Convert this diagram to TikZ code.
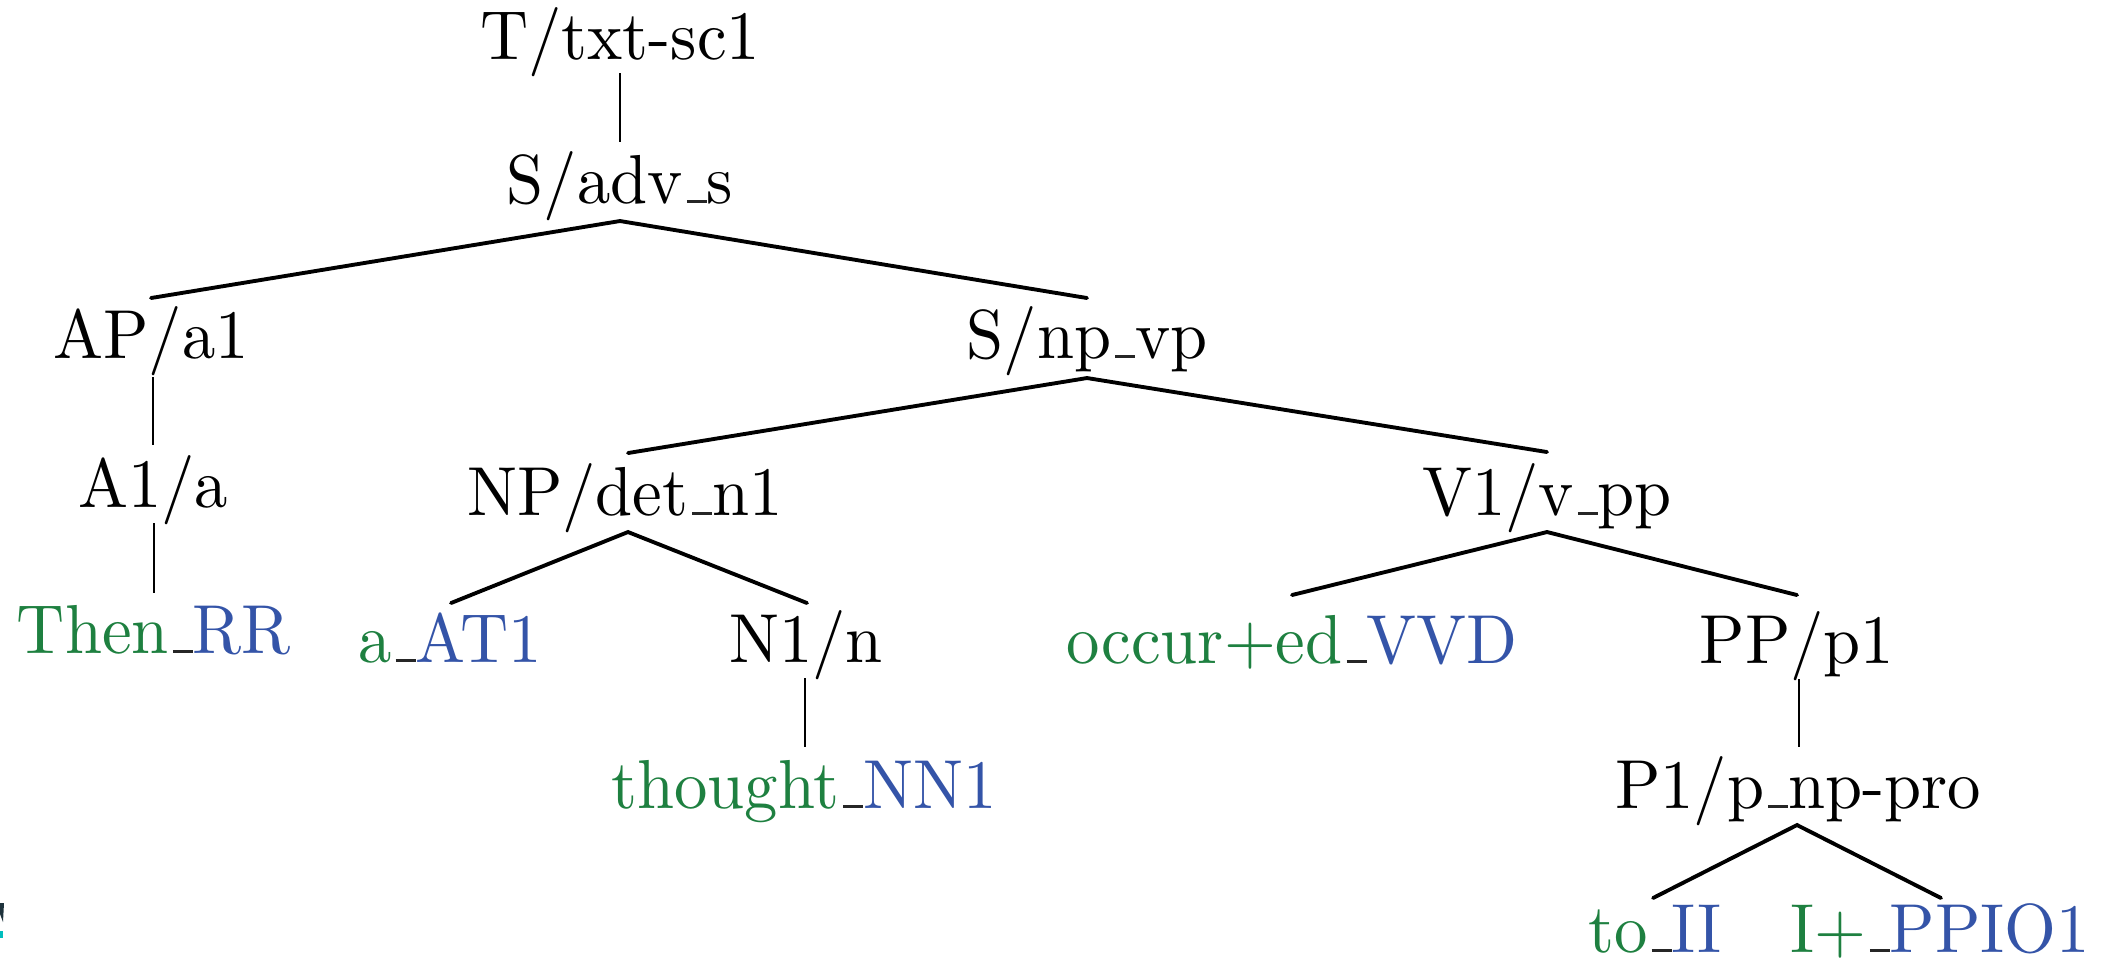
\documentclass[tikz,border=0pt]{standalone}
\usetikzlibrary{calc}
\definecolor{wgreen}{RGB}{30,128,64}
\definecolor{tblue}{RGB}{52,84,168}
\definecolor{artdark}{RGB}{30,50,60}
\definecolor{artteal}{RGB}{0,190,190}
\newcommand\us{\textcolor{black!85}{\kern.06em\rule{.3em}{.45pt}}}
\newcommand\wt[2]{\textcolor{wgreen}{#1}\us\textcolor{tblue}{#2}}
\newcommand\tall[1]{\scalebox{1}[1.04]{#1}}
\begin{document}
\begin{tikzpicture}[x=0.15pt,y=-0.15pt,
  lab/.style={anchor=base,inner sep=0pt,font=\fontsize{10}{12}\selectfont},
  br/.style={line width=0.58pt,line cap=round},
  un/.style={line width=0.25pt}]
\useasboundingbox (0,0) rectangle (2116,961);
% nodes
\node[lab] (T)       at (620,59)   {\tall{T/txt-sc1}};
\node[lab] (Sadv)    at (620,203)  {\tall{S/adv\us s}};
\node[lab] (AP)      at (151,358)  {\tall{AP/a1}};
\node[lab] (Snp)     at (1087,358) {\tall{S/np\us vp}};
\node[lab] (A1)      at (153,507)  {\tall{A1/a}};
\node[lab] (NP)      at (625,515)  {\tall{NP/det\us n1}};
\node[lab] (V1)      at (1547,515) {\tall{V1/v\us pp}};
\node[lab] (Then)    at (154,653)  {\tall{\wt{Then}{RR}}};
\node[lab] (aAT)     at (450,662)  {\tall{\wt{a}{AT1}}};
\node[lab] (N1)      at (806,662)  {\tall{N1/n}};
\node[lab] (occ)     at (1292,663) {\tall{\wt{occur+ed}{VVD}}};
\node[lab] (PP)      at (1797,663) {\tall{PP/p1}};
\node[lab] (thought) at (804,808)  {\tall{\wt{thought}{NN1}}};
\node[lab] (P1)      at (1798,808) {\tall{P1/p\us np-pro}};
\node[lab] (to)      at (1655,952) {\tall{\wt{to}{II}}};
\node[lab] (I)       at (1940,952) {\tall{\wt{I+}{PPIO1}}};
% unary connectors
\draw[un] ($(T.base)+(0,14)$) -- ($(Sadv.base)+(0,-61)$);
\draw[un] ($(AP.base)+(2,19)$) -- ($(A1.base)+(0,-62)$);
\draw[un] ($(A1.base)+(1,16)$) -- ($(Then.base)+(0,-60)$);
\draw[un] ($(N1.base)+(-1,16)$) -- ($(thought.base)+(1,-61)$);
\draw[un] ($(PP.base)+(2,16)$) -- ($(P1.base)+(1,-61)$);
% binary connectors
\draw[br] ($(AP.base)+(0,-60)$) -- ($(Sadv.base)+(0,18)$) -- ($(Snp.base)+(0,-60)$);
\draw[br] ($(NP.base)+(3,-62)$) -- ($(Snp.base)+(0,20)$) -- ($(V1.base)+(0,-63)$);
\draw[br] ($(aAT.base)+(1,-59)$) -- ($(NP.base)+(3,17)$) -- ($(N1.base)+(1,-59)$);
\draw[br] ($(occ.base)+(0,-68)$) -- ($(V1.base)+(0,17)$) -- ($(PP.base)+(0,-68)$);
\draw[br] ($(to.base)+(-2,-54)$) -- ($(P1.base)+(-1,17)$) -- ($(I.base)+(1,-54)$);
% small cropped mark at the lower left edge
\fill[artdark] (0,903) -- (4,903) -- (3,922) -- (0,914) -- cycle;
\fill[artteal] (0,931) rectangle (3,938);
\end{tikzpicture}
\end{document}
